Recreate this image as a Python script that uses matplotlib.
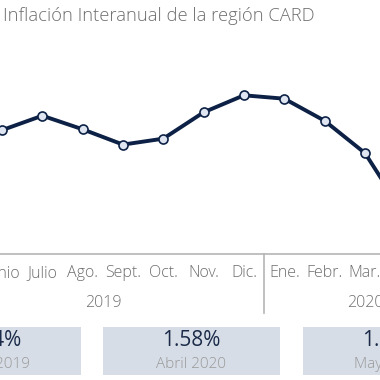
import matplotlib
matplotlib.use("Agg")
import matplotlib.pyplot as plt
from matplotlib.patches import Rectangle

plt.rcParams['font.family'] = ['Open Sans', 'DejaVu Sans']

# Data
months = ["Mayo", "Junio", "Julio", "Ago.", "Sept.", "Oct.", "Nov.", "Dic.",
          "Ene.", "Febr.", "Mar.", "Abr.", "May."]
inflation = [2.64, 2.59, 2.76, 2.60, 2.42, 2.49, 2.80, 3.00,
             2.96, 2.70, 2.32, 1.58]
years = ["2019", "2020"]
year_spans = [(0, 7), (8, 12)]
box_values = ["2.64%", "1.58%", "1.25%"]
box_labels = ["Mayo 2019", "Abril 2020", "Mayo 2020"]

title = "Inflación Interanual de la región CARD"

W = H = 380
fig = plt.figure(figsize=(3.8, 3.8), dpi=100)
fig.patch.set_facecolor("white")

ax = fig.add_axes([0, 0, 1, 1])
step = 40.33
x0_px = 2 - step  # pixel of index 0 (Mayo 2019)
ax.set_xlim((0 - x0_px) / step, (W - x0_px) / step)
ax.set_ylim((350.3 - H) / 85.0, 350.3 / 85.0)
ax.axis("off")

x = list(range(len(inflation)))
ax.plot(x, inflation, color="#0c2145", lw=2.8, solid_joinstyle="round",
        marker="o", markersize=6.5, markerfacecolor="#dfe6f2",
        markeredgecolor="#0c2145", markeredgewidth=1.2, zorder=3,
        clip_on=True)

def fy(py):
    return 1 - py / H

def fx(px):
    return px / W

gray = "#6e6e6e"
fig.text(fx(3), fy(16), title, ha="left", va="center", fontsize=13.2,
         color=gray, fontweight="light")

fig.add_artist(plt.Line2D([0, 1], [fy(254), fy(254)], color="#b5b5b5", lw=1.2))
div_x = x0_px + step * 7.5
fig.add_artist(plt.Line2D([fx(div_x), fx(div_x)], [fy(254), fy(313)],
                          color="#b5b5b5", lw=1.2))

for i, m in enumerate(months):
    px = x0_px + step * i
    fig.text(fx(px), fy(273), m, ha="center", va="center", fontsize=11.5,
             color=gray, fontweight="light")

for yr, (a, b) in zip(years, year_spans):
    px = x0_px + step * (a + b) / 2
    fig.text(fx(px), fy(303), yr, ha="center", va="center", fontsize=11.5,
             color=gray, fontweight="light")

box_w = 177
box_lefts = [-96, 103, 303]
for left, val, lab in zip(box_lefts, box_values, box_labels):
    fig.add_artist(Rectangle((fx(left), fy(375)), box_w / W, (375 - 327) / H,
                             transform=fig.transFigure, facecolor="#d6dde6",
                             edgecolor="none", zorder=0))
    cx = left + box_w / 2
    fig.text(fx(cx), fy(340.5), val, ha="center", va="center", fontsize=15,
             color="#1a2a48")
    fig.text(fx(cx), fy(365), lab, ha="center", va="center", fontsize=11,
             color="#9a9a9a", fontweight="light")

fig.savefig("out.png", dpi=100)
